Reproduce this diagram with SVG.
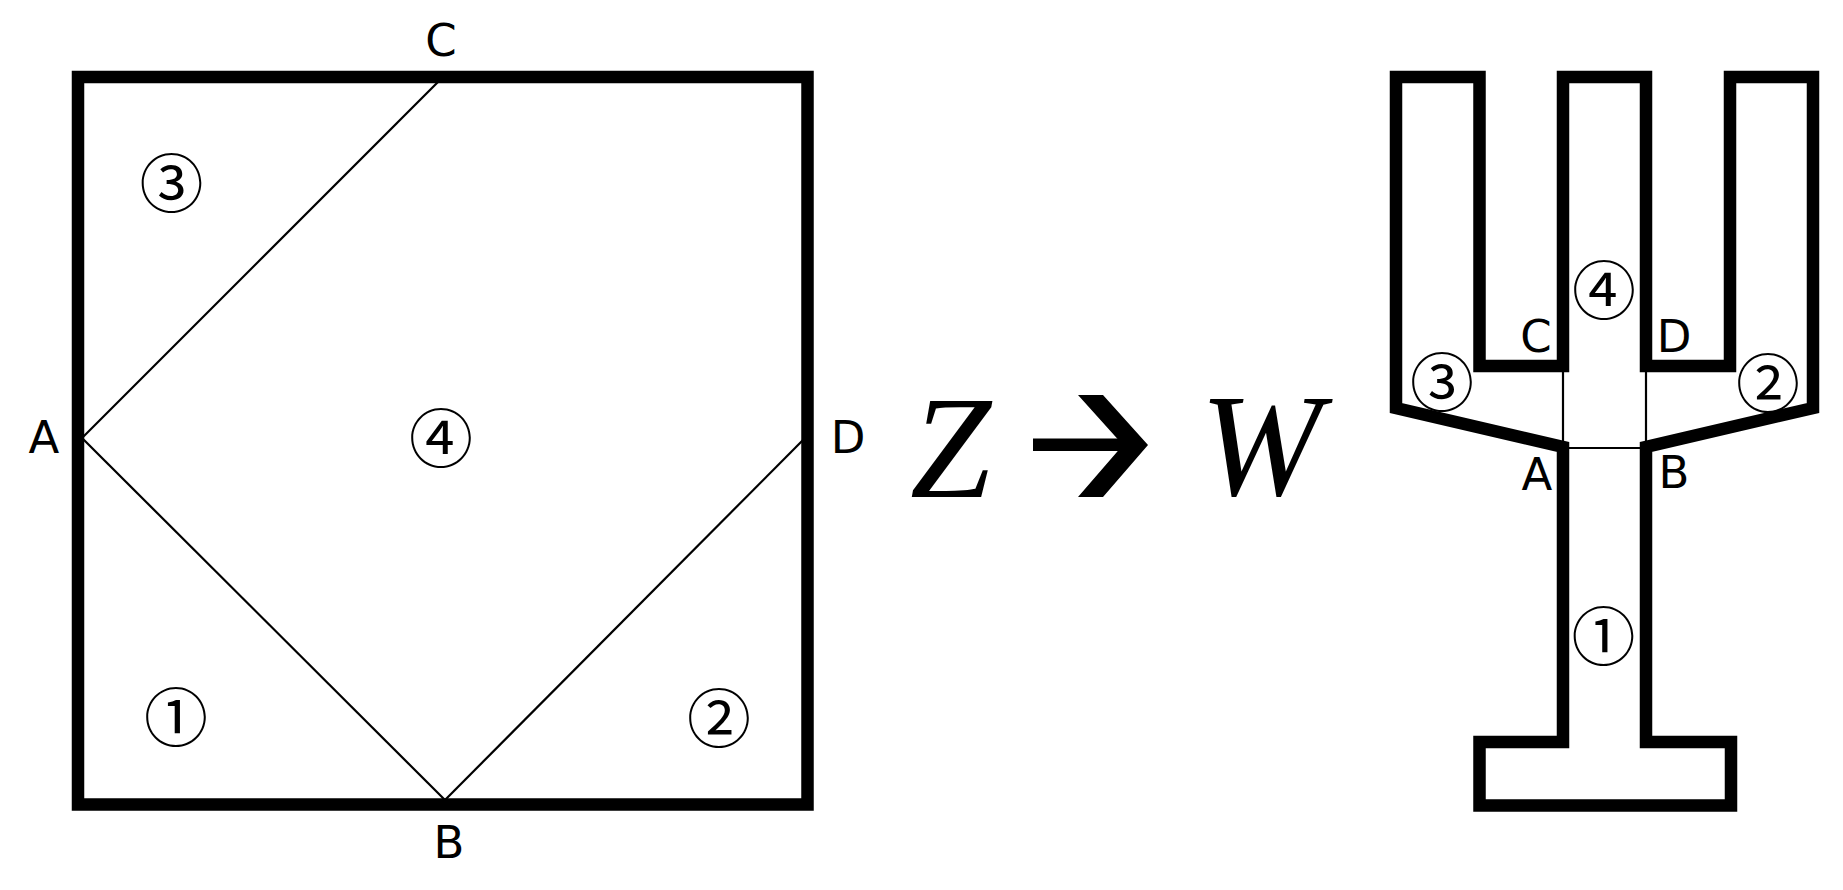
<svg xmlns="http://www.w3.org/2000/svg" width="1843" height="890" viewBox="0 0 1843 890">
<style>
.thick{fill:none;stroke:#000;stroke-width:12.5;stroke-linejoin:miter;stroke-miterlimit:10}
.thin{fill:none;stroke:#000;stroke-width:2.2}
.lbl{font-family:"DejaVu Sans","Liberation Sans",sans-serif;font-size:45px;text-anchor:middle;fill:#000}
.num{font-family:"Noto Sans CJK JP",sans-serif;font-size:64px;text-anchor:middle;dominant-baseline:central;fill:#000}
.math{font-family:"Liberation Serif","Times New Roman","Tinos","Nimbus Roman","FreeSerif",serif;font-style:italic;font-size:146px;fill:#000}
</style>
<rect width="1843" height="890" fill="#fff"/>
<g id="square">
<rect class="thick" x="78" y="77" width="729.5" height="727.5"/>
</g>
<g id="connectors">
<line class="thin" x1="82" y1="438" x2="440" y2="80"/>
<line class="thin" x1="82" y1="438" x2="445" y2="800"/>
<line class="thin" x1="445" y1="800" x2="805" y2="438"/>
<line class="thin" x1="1563" y1="366" x2="1563" y2="448"/>
<line class="thin" x1="1646" y1="366" x2="1646" y2="448"/>
<line class="thin" x1="1563" y1="448" x2="1646" y2="448"/>
</g>
<g id="square-labels">
<text class="lbl" x="441" y="56">C</text>
<text class="lbl" x="44" y="453">A</text>
<text class="lbl" x="848" y="453">D</text>
<text class="lbl" x="449" y="858">B</text>
<text class="num" x="171.5" y="179">③</text>
<text class="num" x="441" y="434">④</text>
<text class="num" x="176" y="713">①</text>
<text class="num" x="719" y="714">②</text>
</g>
<g id="transform">
<text class="math" x="910" y="497">Z</text>
<rect x="1033" y="438.5" width="92" height="12.5" fill="#000"/>
<polygon points="1078,395 1103,395 1148,445 1103,497 1078,497 1123,445" fill="#000"/>
<text class="math" x="1200" y="495">W</text>
</g>
<g id="shape-w">
<path class="thick" d="M1396 77 H1479.5 V366 H1563 V77 H1646 V366 H1730 V77 H1813 V408 L1646 447 V742 H1731 V805.5 H1479.5 V742 H1563 V447 L1396 408 Z"/>
</g>
<g id="w-labels">
<text class="lbl" x="1536" y="352">C</text>
<text class="lbl" x="1674" y="352">D</text>
<text class="lbl" x="1537" y="490">A</text>
<text class="lbl" x="1674" y="488">B</text>
<text class="num" x="1604" y="286">④</text>
<text class="num" x="1442" y="378">③</text>
<text class="num" x="1768" y="379">②</text>
<text class="num" x="1603.5" y="632">①</text>
</g>
</svg>
